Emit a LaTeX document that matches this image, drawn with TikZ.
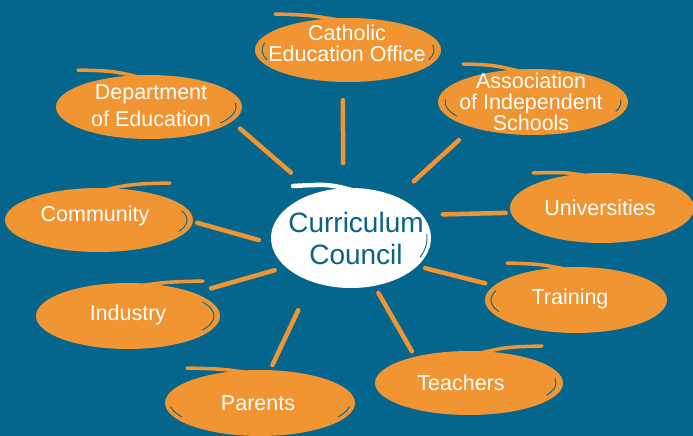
\documentclass[tikz,border=0pt]{standalone}
\usepackage{fontspec}
\setmainfont{Liberation Sans}
\usetikzlibrary{shapes.geometric,calc}
\definecolor{bgc}{RGB}{4,102,141}
\definecolor{org}{RGB}{241,149,50}
\definecolor{tealtxt}{RGB}{10,98,132}
\begin{document}
\begin{tikzpicture}[x=1pt,y=-1pt,
  bubble/.style={ellipse,fill=org,inner sep=0pt},
  core/.style={ellipse,fill=white,inner sep=0pt},
  lbl/.style={text=white,align=center,font=\fontsize{21.5}{21}\selectfont,inner sep=0pt},
  corelbl/.style={text=tealtxt,align=center,font=\fontsize{28}{32}\selectfont,inner sep=0pt},
  spoke/.style={draw=org,line width=4.5pt,line cap=round},
  brush/.style={draw=org,line width=3.5pt,line cap=round},
  wbrush/.style={draw=white,line width=4.5pt,line cap=round},
  gap/.style={draw=bgc,line width=0.9pt}]
\useasboundingbox (0,0) rectangle (693,436);
\clip (0,0) rectangle (693,436);
\fill[bgc] (0,0) rectangle (693,436);

% bubbles
\node[bubble,minimum width=186pt,minimum height=64pt] (cat) at (348,50) {};
\node[bubble,minimum width=186pt,minimum height=64pt] (dept) at (149,107) {};
\node[bubble,minimum width=190pt,minimum height=66pt] (assoc) at (533,102) {};
\node[bubble,minimum width=188pt,minimum height=64pt] (comm) at (99,220) {};
\node[bubble,minimum width=184pt,minimum height=70pt] (univ) at (602,208) {};
\node[bubble,minimum width=184pt,minimum height=66pt] (ind) at (128,316) {};
\node[bubble,minimum width=182pt,minimum height=66pt] (train) at (576,300) {};
\node[bubble,minimum width=190pt,minimum height=66pt] (par) at (260,403) {};
\node[bubble,minimum width=188pt,minimum height=64pt] (teach) at (469,383) {};
\node[core,minimum width=160pt,minimum height=100pt] (cc) at (351,238) {};

% brush strokes (tails of the hand-drawn outlines)
\draw[brush] (275,14) .. controls (310,15) .. (350,22);
\draw[brush] (78,70) .. controls (115,71) .. (150,80);
\draw[brush] (463,64) .. controls (495,65) .. (530,74);
\draw[brush] (170,183) .. controls (130,184) .. (92,193);
\draw[brush] (533,173) .. controls (565,172) .. (600,178);
\draw[brush] (203,281) .. controls (165,282) .. (125,288);
\draw[brush] (507,263) .. controls (540,264) .. (575,271);
\draw[brush] (187,368) .. controls (225,369) .. (262,375);
\draw[brush] (542,346) .. controls (505,347) .. (468,356);
\draw[wbrush] (293,186) .. controls (330,184) .. (362,193);

% inner gaps
\draw[gap] (cat) ++(-10:86 and 28) arc[start angle=-10,end angle=20,x radius=86,y radius=28];
\draw[gap] (cat) ++(160:86 and 28) arc[start angle=160,end angle=195,x radius=86,y radius=28];
\draw[gap] (dept) ++(-8:87 and 28) arc[start angle=-8,end angle=35,x radius=87,y radius=28];
\draw[gap] (assoc) ++(150:88 and 28) arc[start angle=150,end angle=185,x radius=88,y radius=28];
\draw[gap] (assoc) ++(-5:88 and 28) arc[start angle=-5,end angle=20,x radius=88,y radius=28];
\draw[gap] (comm) ++(-20:88 and 27) arc[start angle=-20,end angle=25,x radius=88,y radius=27];
\draw[gap] (ind) ++(-30:86 and 28) arc[start angle=-30,end angle=30,x radius=86,y radius=28];
\draw[gap] (train) ++(155:85 and 28) arc[start angle=155,end angle=200,x radius=85,y radius=28];
\draw[gap] (teach) ++(-10:87 and 27) arc[start angle=-10,end angle=27,x radius=87,y radius=27];
\draw[gap] (par) ++(150:90 and 28) arc[start angle=150,end angle=172,x radius=90,y radius=28];
\draw[gap] (par) ++(8:90 and 28) arc[start angle=8,end angle=30,x radius=90,y radius=28];
\draw[gap] (cc) ++(-5:76 and 46) arc[start angle=-5,end angle=25,x radius=76,y radius=46];

% labels
\node[lbl] (cat-t) at (347,43) {Catholic\\Education Office};
\node[lbl,font=\fontsize{21.5}{27}\selectfont] (dept-t) at (151,106) {Department\\of Education};
\node[lbl] (assoc-t) at (531,102) {Association\\of Independent\\Schools};
\node[lbl] (comm-t) at (95,216) {Community};
\node[lbl] (univ-t) at (600,208) {Universities};
\node[lbl] (ind-t) at (128,315) {Industry};
\node[lbl] (train-t) at (570,299) {Training};
\node[lbl] (par-t) at (258,403) {Parents};
\node[lbl] (teach-t) at (461,383) {Teachers};
\node[corelbl] (cc-t) at (356,238) {Curriculum\\Council};

% spokes
\draw[spoke,shorten <=25pt,shorten >=18pt] (cc.99) -- (cat.-99);
\draw[spoke,shorten <=31.5pt,shorten >=10.5pt] (cc.129) -- (dept.-10.5);
\draw[spoke,shorten <=23pt,shorten >=18.5pt] (cc.42) -- (assoc.-157);
\draw[spoke,shorten <=13pt,shorten >=4.3pt] (cc.184) -- (comm.-1.2);
\draw[spoke,shorten <=20.7pt,shorten >=5pt] (cc.18.4) -- (univ.183);
\draw[spoke,shorten <=11.5pt,shorten >=17pt] (cc.204) -- (ind.19.5);
\draw[spoke,shorten <=8pt,shorten >=9pt] (cc.-23.6) -- (train.170.2);
\draw[spoke,shorten <=31.5pt,shorten >=5.7pt] (cc.228.5) -- (par.73.7);
\draw[spoke,shorten <=8pt,shorten >=6.2pt] (cc.-64.7) -- (teach.154.4);
\end{tikzpicture}
\end{document}
